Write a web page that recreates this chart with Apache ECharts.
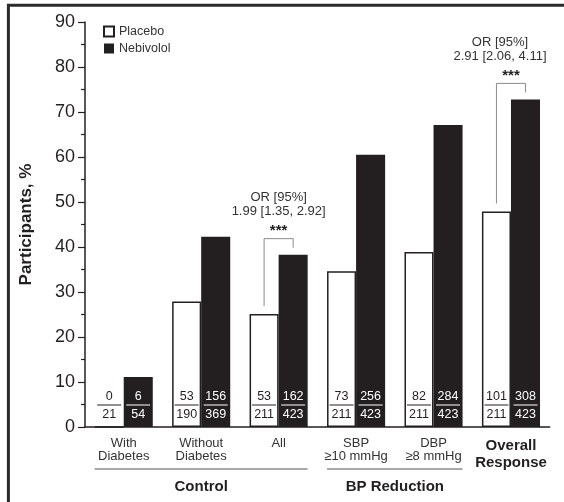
<!DOCTYPE html>
<html><head><meta charset="utf-8">
<script src="https://cdn.jsdelivr.net/npm/echarts@6/dist/echarts.min.js"></script>
<style>html,body{margin:0;padding:0;background:#fff}#c{width:564px;height:502px}</style>
</head><body><div id="c"></div>
<script>
// ---- data ----
const categories = ['With\nDiabetes', 'Without\nDiabetes', 'All', 'SBP\n≥10 mmHg', 'DBP\n≥8 mmHg', 'Overall\nResponse'];
const placeboPct = [0, 27.9, 25.1, 34.6, 38.9, 47.9];
const nebivololPct = [11.1, 42.3, 38.3, 60.5, 67.1, 72.8];
const placeboN = [0, 53, 53, 73, 82, 101];
const placeboTotal = [21, 190, 211, 211, 211, 211];
const nebivololN = [6, 156, 162, 256, 284, 308];
const nebivololTotal = [54, 369, 423, 423, 423, 423];
const annCats = [2, 5];
const annTitle = ['OR [95%]', 'OR [95%]'];
const annOR = ['1.99 [1.35, 2.92]', '2.91 [2.06, 4.11]'];
const annSig = ['***', '***'];
const groupNames = ['Control', 'BP Reduction'];
const groupStart = [0, 3];
const groupEnd = [2, 4];
const yMin = 0, yMax = 90, yStep = 10;

// ---- styles ----
const INK = '#231f20';
const FONT = '"Liberation Sans", Arial, Helvetica, sans-serif';
const BAR_FRAC = 0.375;

const chart = echarts.init(document.getElementById('c'), null, {renderer: 'canvas'});

function fractionRender(params, api) {
  const i = api.value(0);
  const base = api.coord([i, 0]);
  const band = api.size([1, 0])[0];
  const bw = band * BAR_FRAC;
  const children = [];
  const sides = [
    {x: base[0] - bw / 2, n: placeboN[i], d: placeboTotal[i], c: INK},
    {x: base[0] + bw / 2, n: nebivololN[i], d: nebivololTotal[i], c: '#ffffff'}
  ];
  sides.forEach(s => {
    children.push({type: 'text', style: {text: String(s.n), x: s.x, y: base[1] - 30, fill: s.c,
      fontSize: 12.5, fontFamily: FONT, align: 'center', verticalAlign: 'middle'}});
    children.push({type: 'line', shape: {x1: s.x - 12, y1: base[1] - 22, x2: s.x + 12, y2: base[1] - 22},
      style: {stroke: s.c, lineWidth: 1}});
    children.push({type: 'text', style: {text: String(s.d), x: s.x, y: base[1] - 12.5, fill: s.c,
      fontSize: 12.5, fontFamily: FONT, align: 'center', verticalAlign: 'middle'}});
  });
  return {type: 'group', children};
}

function annRender(params, api) {
  const c = api.value(0);
  const k = api.value(3);
  const pTop = api.coord([c, api.value(1)]);
  const nTop = api.coord([c, api.value(2)]);
  const band = api.size([1, 0])[0];
  const bw = band * BAR_FRAC;
  const cx = pTop[0];
  const xL = cx - bw / 2, xR = cx + bw / 2;
  const yTop = nTop[1] - 16;
  const tx = Math.min(cx, 546 - 46);
  const tstyle = {fill: '#333', fontSize: 13, fontFamily: FONT, verticalAlign: 'middle', align: 'center'};
  return {type: 'group', children: [
    {type: 'polyline', shape: {points: [[xL, pTop[1] - 8], [xL, yTop], [xR, yTop], [xR, nTop[1] - 7]]},
      style: {stroke: '#8a8a8a', lineWidth: 1, fill: null}},
    {type: 'text', style: Object.assign({}, tstyle, {text: annSig[k], x: cx, y: yTop - 8,
      fontSize: 15, fontWeight: 'bold', fill: INK})},
    {type: 'text', style: Object.assign({}, tstyle, {text: annOR[k], x: tx, y: yTop - 27})},
    {type: 'text', style: Object.assign({}, tstyle, {text: annTitle[k], x: tx, y: yTop - 41})}
  ]};
}

function groupRender(params, api) {
  const k = api.value(2);
  const a = api.coord([api.value(0), 0]);
  const b = api.coord([api.value(1), 0]);
  const band = api.size([1, 0])[0];
  const bw = band * BAR_FRAC;
  const x1 = a[0] - bw, x2 = b[0] + bw;
  return {type: 'group', children: [
    {type: 'line', shape: {x1: x1, y1: a[1] + 42, x2: x2, y2: a[1] + 42}, style: {stroke: '#555', lineWidth: 1.2}},
    {type: 'text', style: {text: groupNames[k], x: (x1 + x2) / 2, y: a[1] + 60, fill: INK, fontSize: 15,
      fontWeight: 'bold', fontFamily: FONT, align: 'center', verticalAlign: 'middle'}}
  ]};
}

chart.setOption({
  animation: false,
  backgroundColor: '#ffffff',
  textStyle: {fontFamily: FONT},
  grid: {left: 85, right: 14.3, top: 22, bottom: 75, containLabel: false},
  legend: {
    data: ['Placebo', 'Nebivolol'], orient: 'vertical', left: 103, top: 25, padding: 0,
    itemWidth: 10, itemHeight: 10, itemGap: 4, icon: 'rect',
    textStyle: {fontSize: 12.5, color: '#333', lineHeight: 10, fontFamily: FONT}
  },
  xAxis: {
    type: 'category', data: categories,
    axisLine: {lineStyle: {color: INK, width: 1.5}},
    axisTick: {show: false},
    axisLabel: {
      interval: 0, margin: 10, color: '#333', fontSize: 13, lineHeight: 13, fontFamily: FONT,
      formatter: function (v, i) {
        if (i === categories.length - 1) return v.split('\n').map(s => '{b|' + s + '}').join('\n');
        return v;
      },
      rich: {b: {fontSize: 15, fontWeight: 'bold', lineHeight: 17, color: INK, fontFamily: FONT}}
    }
  },
  yAxis: {
    type: 'value', min: yMin, max: yMax, interval: yStep,
    name: 'Participants, %', nameLocation: 'middle', nameRotate: 90, nameGap: 50,
    nameTextStyle: {fontSize: 17, fontWeight: 'bold', color: INK, fontFamily: FONT},
    axisLine: {show: true, lineStyle: {color: INK, width: 1.5}},
    axisTick: {show: true, length: 7, lineStyle: {color: INK, width: 1.2}},
    minorTick: {show: true, splitNumber: 2, length: 4, lineStyle: {color: INK, width: 1.2}},
    splitLine: {show: false},
    axisLabel: {fontSize: 18, color: INK, margin: 10, fontFamily: FONT}
  },
  graphic: [
    {type: 'line', shape: {x1: 7, y1: 5.3, x2: 564, y2: 5.3}, style: {stroke: '#2b2b2b', lineWidth: 3}, z: 100},
    {type: 'line', shape: {x1: 8.4, y1: 4, x2: 8.4, y2: 502}, style: {stroke: '#2b2b2b', lineWidth: 3}, z: 100}
  ],
  series: [
    {name: 'Placebo', type: 'bar', data: placeboPct, barWidth: '37.5%', barGap: '0%',
      itemStyle: {color: '#ffffff', borderColor: INK, borderWidth: 1.5}},
    {name: 'Nebivolol', type: 'bar', data: nebivololPct, barWidth: '37.5%', barGap: '0%',
      itemStyle: {color: INK, borderColor: INK, borderWidth: 0}},
    {type: 'custom', renderItem: fractionRender, clip: false, z: 10, silent: true,
      encode: {x: 0, y: 1}, data: categories.map((c, i) => [i, 0])},
    {type: 'custom', renderItem: annRender, clip: false, z: 10, silent: true,
      encode: {x: 0, y: 1}, data: annCats.map((c, k) => [c, placeboPct[c], nebivololPct[c], k])},
    {type: 'custom', renderItem: groupRender, clip: false, z: 10, silent: true,
      encode: {x: 0, y: 3}, data: groupNames.map((g, k) => [groupStart[k], groupEnd[k], k, 0])}
  ]
});
</script></body></html>
